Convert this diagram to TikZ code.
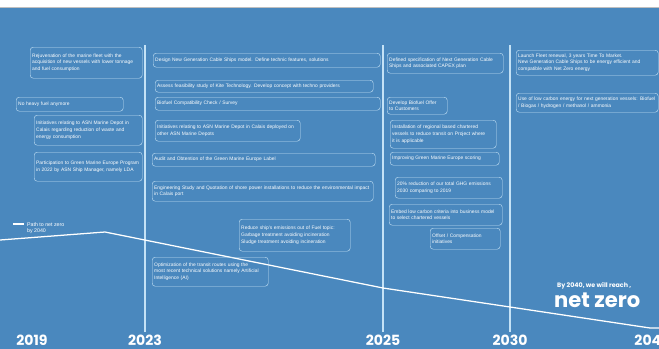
\documentclass[tikz,border=0pt]{standalone}
\usepackage{fontspec}
\setmainfont{Liberation Sans}
\newfontfamily\popfont{Poppins}
\usetikzlibrary{positioning}
\definecolor{seablue}{RGB}{74,136,190}
\definecolor{paleline}{RGB}{196,226,246}
\hyphenpenalty=10000
\exhyphenpenalty=10000

\begin{document}
\begin{tikzpicture}[x=0.5mm,y=-0.5mm]
        % Setup the styles for the notes and the years
        \tikzset{note style/.style={draw=paleline,
                                    line width=0.6pt,
                                    rounded corners=1.5mm,
                                    text=white,
                                    font=\fontsize{7}{9.8}\selectfont,
                                    align=left,
                                    anchor=north west,
                                    inner xsep=1mm,
                                    inner ysep=0.6mm},
                 year style/.style={text=white,
                                    font=\popfont\bfseries\fontsize{20}{20}\selectfont,
                                    anchor=base},
                 mark style/.style={draw=paleline, line width=1.8pt}}

        \clip (0,0) rectangle (659,349);
        \useasboundingbox (0,0) rectangle (659,349);
        \fill[seablue] (0,0) rectangle (659,349);
        \fill[white] (0,0) rectangle (659,7);
        \draw[gray!50, line width=0.8pt] (0,7.5) -- (659,7.5);

        % Draw the years
        \node[year style] at (32,345) (y2019) {2019};
        \node[year style] at (145,345) (y2023) {2023};
        \node[year style] at (383,345) (y2025) {2025};
        \node[year style] at (510,345) (y2030) {2030};
        \node[year style, anchor=base west] at (632,345) (y2040) {2040};

        % Draw the timeline marks
        \coordinate (m2023) at (145,45);
        \coordinate (m2025) at (383,45);
        \coordinate (m2030) at (510,45);
        \draw[mark style] (m2023) -- (y2023.north);
        \draw[mark style] (m2025) -- (y2025.north);
        \draw[mark style] (m2030) -- (y2030.north);

        % Draw the path to net zero
        \coordinate (p0) at (0,240);
        \coordinate (p1) at (105,232);
        \coordinate (p2) at (383,288);
        \coordinate (p3) at (510,307);
        \coordinate (p4) at (650,328);
        \coordinate (p5) at (659,328);
        \draw[white, line width=1.8pt, line join=round] (p0) -- (p1) -- (p2) -- (p3) -- (p4) -- (p5);

        \coordinate (leg0) at (13,224);
        \coordinate (leg1) at (24,224);
        \draw[white, line width=2.4pt] (leg0) -- (leg1);
        \node[text=white, font=\fontsize{7.5}{9}\selectfont, align=left, anchor=west, inner sep=0pt]
              at (27,228) (legend) {Path to net zero\\by 2040};

        % Notes before 2023
        \node[note style, text width=54mm, minimum height=15.5mm] at (30,47) (fleet)
              {Rejuvenation of the marine fleet with the acquisition of new vessels with lower tonnage and fuel consumption};
        \node[note style, text width=51.5mm, minimum height=7mm] at (16,97) (heavyfuel)
              {No heavy fuel anymore};
        \node[note style, text width=52mm, minimum height=15mm] at (34,115) (depotA)
              {Initiatives relating to ASN Marine Depot in Calais regarding reduction of waste and energy consumption};
        \node[note style, text width=52mm, minimum height=14.5mm] at (34,152) (gme)
              {Participation to Green Marine Europe Program in 2022 by ASN Ship Manager, namely LDA};

        % Notes 2023 - 2025
        \node[note style, text width=111.5mm, minimum height=7mm] at (153,53) (design)
              {Design New Generation Cable Ships model. Define technic features, solutions};
        \node[note style, text width=107mm, minimum height=6mm] at (155,80) (feasib)
              {Assess feasibility study of Kite Technology. Develop concept with techno providers};
        \node[note style, text width=110.5mm, minimum height=6.5mm] at (155,97) (biofuel)
              {Biofuel Compatibility Check / Survey};
        \node[note style, text width=70.5mm, minimum height=10.5mm] at (155,120) (depotB)
              {Initiatives relating to ASN Marine Depot in Calais deployed on other ASN Marine Depots};
        \node[note style, text width=109.5mm, minimum height=6.5mm] at (152,153) (audit)
              {Audit and Obtention of the Green Marine Europe Label};
        \node[note style, text width=108.5mm, minimum height=10mm] at (152,181) (shore)
              {Engineering Study and Quotation of shore power installations to reduce the environmental impact in Calais port};
        \node[note style, text width=53.5mm, minimum height=16mm] at (239,219) (emissions)
              {Reduce ship's emissions out of Fuel topic:\\Garbage treatment avoiding incineration\\Sludge treatment avoiding incineration};
        \node[note style, text width=56mm, minimum height=14.5mm] at (152,257) (routes)
              {Optimization of the transit routes using the most recent technical solutions namely Artificial Intelligence (AI)};

        % Notes 2025 - 2030
        \node[note style, text width=56mm, minimum height=10mm] at (387,53) (spec)
              {Defined specification of Next Generation Cable Ships and associated CAPEX plan};
        \node[note style, text width=28mm, minimum height=8.5mm] at (387,97) (offer)
              {Develop Biofuel Offer\\to Customers};
        \node[note style, text width=51mm, minimum height=14mm] at (390,120) (regional)
              {Installation of regional based chartered vessels to reduce transit on Project where it is applicable};
        \node[note style, text width=52.5mm, minimum height=6.5mm] at (390,152) (scoring)
              {Improving Green Marine Europe scoring};
        \node[note style, text width=51.5mm, minimum height=10.5mm] at (395,177) (ghg)
              {20\% reduction of our total GHG emissions 2030 comparing to 2019};
        \node[note style, text width=54.5mm, minimum height=10.5mm] at (389,204) (criteria)
              {Embed low carbon criteria into business model to select chartered vessels};
        \node[note style, text width=33mm, minimum height=10.5mm] at (430,228) (offset)
              {Offset / Compensation initiatives};

        % Notes 2030 - 2040
        \node[note style, text width=69mm, minimum height=12.5mm] at (516,50) (launch)
              {Launch Fleet renewal, 3 years Time To Market.\\New Generation Cable Ships to be energy efficient and compatible with Net Zero energy};
        \node[note style, text width=69mm, minimum height=9.5mm] at (516,93) (lowcarbon)
              {Use of low carbon energy for next generation vessels: Biofuel / Biogas / hydrogen / methanol / ammonia};

        % Net zero goal
        \node[text=white, font=\popfont\bfseries\fontsize{9}{10}\selectfont, anchor=base west, inner sep=0pt]
              at (557,287) (reach) {By 2040, we will reach ,};
        \node[text=white, font=\popfont\bfseries\fontsize{30}{30}\selectfont, anchor=base west, inner sep=0pt]
              at (554,307) (netzero) {net zero};
\end{tikzpicture}
\end{document}
